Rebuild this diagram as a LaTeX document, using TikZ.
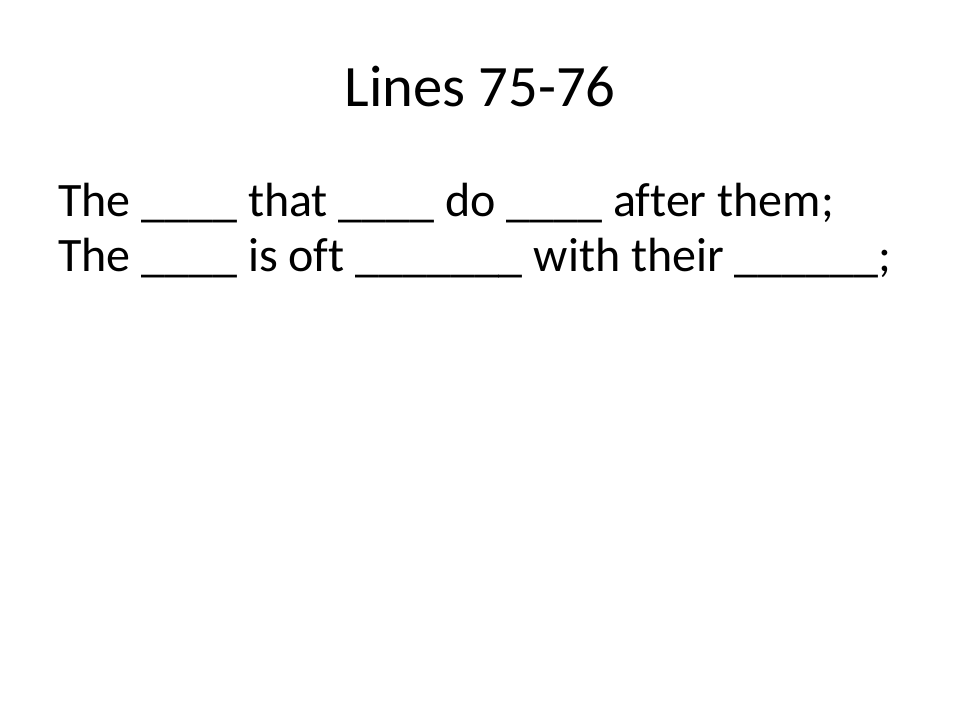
\documentclass[tikz,border=0pt]{standalone}
\usepackage{fontspec}
\setmainfont[Ligatures=NoCommon]{Carlito}
\begin{document}
\begin{tikzpicture}[x=0.75pt,y=-0.75pt,
  titletext/.style={font=\fontsize{44}{53}\selectfont, anchor=base, inner sep=0pt},
  bodytext/.style={font=\fontsize{36}{43}\selectfont, anchor=base west, inner sep=0pt}]
\useasboundingbox[fill=white] (0,0) rectangle (960,720);
\node[titletext] (title) at (480,107) {Lines 75-76};
\node[bodytext] (l1) at (58,217) {The \_\_\_\_ that \_\_\_\_ do \_\_\_\_ after them;};
\node[bodytext] (l2) at (58,272) {The \_\_\_\_ is oft \_\_\_\_\_\_\_ with their \_\_\_\_\_\_;};
\end{tikzpicture}
\end{document}
